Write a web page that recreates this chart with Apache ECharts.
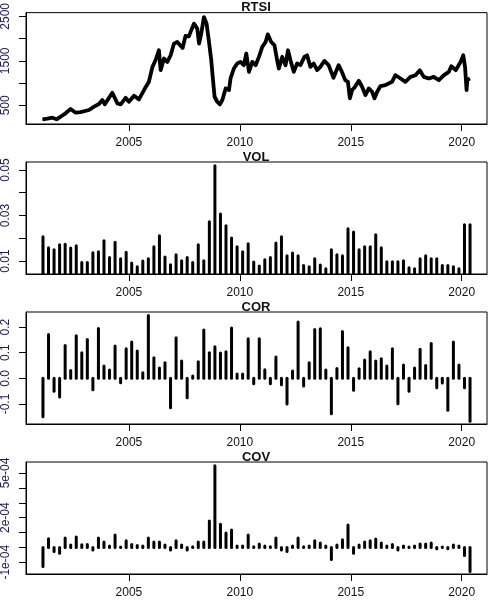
<!DOCTYPE html>
<html><head><meta charset="utf-8">
<script src="https://cdn.jsdelivr.net/npm/echarts@6/dist/echarts.min.js"></script>
<style>html,body{margin:0;padding:0;background:#fff}#c{width:493px;height:601px}</style>
</head><body><div id="c"></div>
<script>
// ---- data ----
const rtsiDates = [2001.10,2001.32,2001.55,2001.74,2001.92,2002.14,2002.37,2002.60,2002.82,2003.20,2003.43,2003.65,2003.80,2003.91,2004.25,2004.48,2004.63,2004.85,2005.00,2005.23,2005.45,2005.68,2005.90,2006.06,2006.20,2006.35,2006.43,2006.58,2006.73,2006.88,2007.03,2007.18,2007.42,2007.55,2007.70,2007.93,2008.08,2008.16,2008.26,2008.38,2008.50,2008.61,2008.71,2008.79,2008.86,2008.98,2009.10,2009.21,2009.36,2009.51,2009.58,2009.73,2009.88,2010.03,2010.18,2010.29,2010.41,2010.56,2010.71,2010.86,2011.01,2011.16,2011.26,2011.41,2011.56,2011.68,2011.76,2011.91,2012.06,2012.17,2012.28,2012.43,2012.58,2012.73,2012.91,2013.03,2013.18,2013.33,2013.48,2013.63,2013.81,2014.00,2014.22,2014.30,2014.45,2014.60,2014.75,2014.87,2014.96,2015.06,2015.17,2015.36,2015.51,2015.66,2015.81,2015.96,2016.07,2016.19,2016.34,2016.56,2016.86,2017.01,2017.24,2017.46,2017.69,2017.92,2018.11,2018.29,2018.52,2018.74,2018.97,2019.20,2019.42,2019.53,2019.73,2019.95,2020.07,2020.15,2020.22,2020.25,2020.37];
const rtsiValues = [187,200,222,187,245,321,417,335,350,395,470,530,619,522,782,544,522,670,582,715,634,843,1029,1364,1514,1738,1290,1552,1477,1626,1888,1925,1790,2060,2050,2336,2224,1888,2112,2484,2336,1924,1514,1066,693,581,522,619,880,843,1104,1328,1440,1477,1403,1664,1253,1477,1403,1589,1813,1925,2096,1925,1850,1514,1328,1589,1403,1738,1514,1253,1440,1403,1589,1626,1365,1440,1291,1365,1499,1403,1120,1216,1403,1253,1066,1029,657,843,903,1052,918,731,880,806,657,806,933,955,1029,1178,1104,1029,1140,1178,1290,1140,1104,1140,1066,1178,1253,1380,1290,1477,1626,1365,843,1066,1104];

const volValues = [0.0207,0.0158,0.0150,0.0172,0.0174,0.0157,0.0167,0.0093,0.0093,0.0136,0.0141,0.0189,0.0115,0.0183,0.0110,0.0139,0.0091,0.0075,0.0100,0.0110,0.0163,0.0211,0.0118,0.0084,0.0128,0.0101,0.0115,0.0093,0.0172,0.0101,0.0272,0.0518,0.0307,0.0255,0.0201,0.0163,0.0141,0.0176,0.0096,0.0078,0.0106,0.0115,0.0179,0.0207,0.0123,0.0135,0.0123,0.0080,0.0075,0.0110,0.0082,0.0066,0.0150,0.0128,0.0123,0.0242,0.0228,0.0150,0.0163,0.0163,0.0215,0.0158,0.0097,0.0097,0.0097,0.0101,0.0071,0.0066,0.0110,0.0123,0.0110,0.0110,0.0080,0.0080,0.0075,0.0066,0.0259,0.0259];
const corValues = [-0.150,0.171,-0.050,-0.073,0.128,0.031,0.166,0.100,0.151,-0.044,0.194,0.048,0.033,0.126,-0.017,0.115,0.142,0.107,0.022,0.245,0.080,0.040,0.061,-0.115,0.158,0.068,-0.076,0.009,0.065,0.189,0.100,0.123,0.099,0.104,0.196,0.017,0.017,0.154,-0.021,0.154,0.034,-0.021,0.083,-0.025,-0.100,0.029,0.220,-0.030,0.061,0.190,0.193,0.033,-0.138,0.038,0.183,0.119,-0.046,0.037,0.072,0.104,0.068,0.076,0.048,0.115,-0.099,0.052,-0.050,0.040,0.113,0.050,0.136,-0.037,-0.018,-0.124,0.142,0.052,-0.037,-0.167];
const covValues = [-1.28e-4,0.58e-4,-0.27e-4,-0.40e-4,0.63e-4,0.16e-4,0.70e-4,0.18e-4,0.20e-4,-0.18e-4,0.63e-4,0.36e-4,0.09e-4,0.83e-4,0.03e-4,0.45e-4,0.20e-4,0.13e-4,0.09e-4,0.63e-4,0.36e-4,0.36e-4,0.16e-4,-0.18e-4,0.45e-4,0.16e-4,-0.18e-4,0.04e-4,0.36e-4,0.36e-4,1.78e-4,5.48e-4,1.55e-4,0.97e-4,1.17e-4,0.09e-4,0.09e-4,0.83e-4,0.04e-4,0.22e-4,0.09e-4,0.04e-4,0.63e-4,-0.18e-4,-0.27e-4,0.09e-4,0.63e-4,0.04e-4,0.09e-4,0.45e-4,0.29e-4,0.09e-4,-0.81e-4,0.16e-4,0.52e-4,1.51e-4,-0.40e-4,0.16e-4,0.36e-4,0.45e-4,0.56e-4,0.29e-4,0.09e-4,0.20e-4,-0.18e-4,0.09e-4,0.02e-4,0.09e-4,0.22e-4,0.22e-4,0.29e-4,-0.09e-4,0.02e-4,-0.09e-4,0.16e-4,0.09e-4,-0.54e-4,-1.62e-4];

// quarters 2001Q1 .. 2020Q2
const quarterLabels = [];
for (let y = 2001; y <= 2020; y++) for (let q = 1; q <= 4; q++) { if (y === 2020 && q > 2) break; quarterLabels.push(y + 'Q' + q); }
const quarterX = quarterLabels.map(s => +s.slice(0,4) + (+s.slice(5) - 1) / 4 + 0.125);

const panelTitles = ['RTSI', 'VOL', 'COR', 'COV'];
const xTickYears = [2005, 2010, 2015, 2020];
const yTicks = [
  [500, 1000, 1500, 2000, 2500],
  [0.01, 0.02, 0.03, 0.04, 0.05],
  [-0.1, 0, 0.1, 0.2],
  [-1e-4, 0, 1e-4, 2e-4, 3e-4, 4e-4, 5e-4]
];
const yLabelValues = [
  [500, 1500, 2500],
  [0.01, 0.03, 0.05],
  [-0.1, 0, 0.1, 0.2],
  [-1e-4, 2e-4, 5e-4]
];
const yLabelTexts = [
  ['500', '1500', '2500'],
  ['0.01', '0.03', '0.05'],
  ['-0.1', '0.0', '0.1', '0.2'],
  ['-1e-04', '2e-04', '5e-04']
];
const yRanges = [[81, 2583], [0.0043, 0.0535], [-0.178, 0.2587], [-1.79e-4, 5.74e-4]];
const xRange = [2000.36, 2021.14];

// ---- layout ----
const FONT = 'Liberation Sans, Arial, sans-serif';
const gridLeft = 25, gridWidth = 462, gridHeight = 112;
const gridTops = [12, 162, 312, 462];

const grids = [], xAxes = [], yAxes = [], titles = [], series = [];
for (let i = 0; i < 4; i++) {
  grids.push({ left: gridLeft, top: gridTops[i], width: gridWidth, height: gridHeight, show: true, borderColor: '#000', borderWidth: 1, containLabel: false });
  xAxes.push({
    type: 'value', gridIndex: i, min: xRange[0], max: xRange[1],
    axisLine: { show: true, onZero: false, lineStyle: { color: '#000', width: 1 } },
    splitLine: { show: false },
    axisTick: { show: true, length: 7, customValues: xTickYears, lineStyle: { color: '#000' } },
    axisLabel: { show: true, customValues: xTickYears, margin: 13, color: '#111', fontSize: 12, fontFamily: FONT, formatter: v => String(Math.round(v)) }
  });
  const lv = yLabelValues[i], lt = yLabelTexts[i];
  yAxes.push({
    type: 'value', gridIndex: i, min: yRanges[i][0], max: yRanges[i][1],
    axisLine: { show: true, onZero: false, lineStyle: { color: '#000', width: 1 } },
    splitLine: { show: false },
    axisTick: { show: true, length: 7, customValues: yTicks[i], lineStyle: { color: '#000' } },
    axisLabel: { show: true, customValues: lv, rotate: 90, margin: 14, color: '#1c1c50', fontSize: 12, fontFamily: FONT,
      formatter: v => { let best = 0; for (let k = 1; k < lv.length; k++) if (Math.abs(lv[k] - v) < Math.abs(lv[best] - v)) best = k; return lt[best]; } }
  });
  titles.push({ text: panelTitles[i], left: 256, top: gridTops[i] - 11, textAlign: 'center',
    textStyle: { fontSize: 13, fontWeight: 'bold', color: '#111', fontFamily: FONT, lineHeight: 13 }, padding: 0 });
}

series.push({
  type: 'line', xAxisIndex: 0, yAxisIndex: 0, showSymbol: false, animation: false,
  data: rtsiDates.map((d, k) => [d, rtsiValues[k]]),
  lineStyle: { color: '#000', width: 3.8, join: 'round' }
});
// histogram-like vertical lines (R type = "h") with round caps, from 0 (or the lower edge)
[volValues, corValues, covValues].forEach((vals, j) => {
  const base = Math.max(0, yRanges[j + 1][0]);
  series.push({
    type: 'custom', xAxisIndex: j + 1, yAxisIndex: j + 1, animation: false, clip: true,
    data: quarterX.map((x, k) => [x, vals[k]]),
    renderItem: (params, api) => {
      const p0 = api.coord([api.value(0), base]);
      const p1 = api.coord([api.value(0), api.value(1)]);
      return { type: 'line', shape: { x1: p0[0], y1: p0[1], x2: p1[0], y2: p1[1] },
        style: { stroke: '#000', lineWidth: 3, lineCap: 'round' } };
    }
  });
});

const chart = echarts.init(document.getElementById('c'), null, { renderer: 'canvas' });
chart.setOption({ animation: false, backgroundColor: '#fff', title: titles, grid: grids, xAxis: xAxes, yAxis: yAxes, series: series });
</script></body></html>
